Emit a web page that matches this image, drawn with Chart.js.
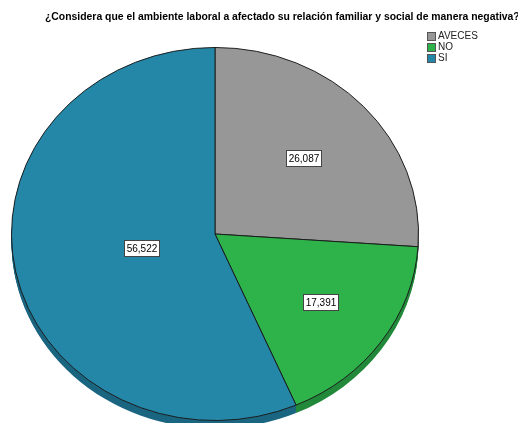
<!DOCTYPE html>
<html>
<head>
<meta charset="utf-8">
<script src="https://cdn.jsdelivr.net/npm/chart.js@4"></script>
<style>
  html, body { margin: 0; padding: 0; background: #fff; overflow: hidden; }
  canvas { display: block; }
</style>
</head>
<body>
<canvas id="pie" width="518" height="460"></canvas>
<script>
const titleText = '¿Considera que el ambiente laboral a afectado su relación familiar y social de manera negativa?';
const categories = ['AVECES', 'NO', 'SI'];
const percents = [26.087, 17.391, 56.522];
const sliceColors = ['#979797', '#2eb34b', '#2587a7'];
const sideColors = ['#6c6c6c', '#22893a', '#1b6681'];

// the SPSS pie is drawn slightly flattened with a thin side band
const squash = 187 / 204;
const depth = 8;

const fmt = v => v.toFixed(3).replace('.', ',');

const tiltPlugin = {
  id: 'tilt',
  beforeDatasetsDraw(chart) {
    const ctx = chart.ctx;
    const arcs = chart.getDatasetMeta(0).data;
    const cy = arcs[0].y;
    ctx.save();
    ctx.translate(0, cy);
    ctx.scale(1, squash);
    ctx.translate(0, -cy);
    // side band: stack darker copies under the top face
    for (let d = depth; d >= 1; d--) {
      arcs.forEach((arc, i) => {
        const y = arc.y + d / squash;
        ctx.beginPath();
        ctx.moveTo(arc.x, y);
        ctx.arc(arc.x, y, arc.outerRadius, arc.startAngle, arc.endAngle);
        ctx.closePath();
        ctx.fillStyle = sideColors[i];
        ctx.fill();
      });
    }
  },
  afterDatasetsDraw(chart) {
    const ctx = chart.ctx;
    ctx.restore();

    // value boxes at the centroid of each slice
    const arcs = chart.getDatasetMeta(0).data;
    ctx.save();
    ctx.font = '10px "Liberation Sans", Arial, sans-serif';
    ctx.textAlign = 'center';
    ctx.textBaseline = 'middle';
    arcs.forEach((arc, i) => {
      const half = (arc.endAngle - arc.startAngle) / 2;
      const mid = arc.startAngle + half;
      const dist = 2 * arc.outerRadius * Math.sin(half) / (3 * half);
      const x = arc.x + Math.cos(mid) * dist;
      const y = arc.y + Math.sin(mid) * dist * squash;
      const text = fmt(percents[i]);
      const w = Math.round(ctx.measureText(text).width) + 4;
      const h = 16;
      const bx = Math.round(x - w / 2) + 0.5;
      const by = Math.round(y - h / 2) + 0.5;
      ctx.fillStyle = '#ffffff';
      ctx.fillRect(bx, by, w, h);
      ctx.strokeStyle = '#444444';
      ctx.lineWidth = 1;
      ctx.strokeRect(bx, by, w, h);
      ctx.fillStyle = '#000000';
      ctx.fillText(text, bx + w / 2, by + h / 2 + 0.5);
    });
    ctx.restore();
  },
  afterDraw(chart) {
    const ctx = chart.ctx;
    ctx.save();
    // title
    ctx.font = 'bold 10.4px "Liberation Sans", Arial, sans-serif';
    ctx.fillStyle = '#000000';
    ctx.textAlign = 'left';
    ctx.textBaseline = 'alphabetic';
    ctx.fillText(titleText, 45, 20);

    // legend
    ctx.font = '10px "Liberation Sans", Arial, sans-serif';
    ctx.textBaseline = 'middle';
    categories.forEach((name, i) => {
      const y = 32 + i * 11;
      ctx.fillStyle = sliceColors[i];
      ctx.fillRect(427.5, y + 0.5, 8, 8);
      ctx.strokeStyle = '#555555';
      ctx.strokeRect(427.5, y + 0.5, 8, 8);
      ctx.fillStyle = '#222222';
      ctx.fillText(name, 438, y + 4.5);
    });
    ctx.restore();
  }
};

new Chart(document.getElementById('pie'), {
  type: 'pie',
  data: {
    labels: categories,
    datasets: [{
      data: percents,
      backgroundColor: sliceColors,
      borderColor: '#1a1a1a',
      borderWidth: 1,
      clip: false
    }]
  },
  options: {
    responsive: false,
    animation: false,
    events: [],
    layout: { padding: { left: 11, right: 99, top: 30, bottom: 22 } },
    plugins: {
      legend: { display: false },
      title: { display: false },
      tooltip: { enabled: false }
    }
  },
  plugins: [tiltPlugin]
});
</script>
</body>
</html>
